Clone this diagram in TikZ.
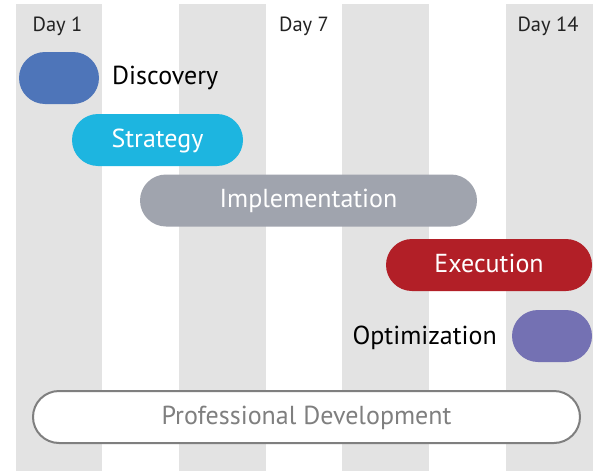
\documentclass[tikz,border=0pt]{standalone}
\usepackage{fontspec}
\setmainfont{PT Sans}
\definecolor{stripe}{HTML}{E3E3E3}
\definecolor{cdisc}{HTML}{4E75B9}
\definecolor{cstrat}{HTML}{1DB5E0}
\definecolor{cimpl}{HTML}{A0A4AE}
\definecolor{cexec}{HTML}{B21F27}
\definecolor{coptim}{HTML}{7471B3}
\definecolor{cline}{HTML}{7F7F7F}
\definecolor{cday}{HTML}{222222}
\tikzset{
  pill/.style={rectangle, rounded corners=26pt, minimum height=52pt, inner sep=0pt,
    text height=20pt, text depth=6pt,
    text=white, font=\fontsize{26}{30}\selectfont},
  lbl/.style={inner sep=0pt, text=black, text height=20pt, text depth=6pt,
    font=\fontsize{26}{30}\selectfont},
  daylbl/.style={inner sep=0pt, text=cday, font=\fontsize{20.5}{24}\selectfont},
  band/.style={fill=stripe, draw=none}
}
\begin{document}
\begin{tikzpicture}[x=1pt,y=-1pt]
\useasboundingbox (0,0) rectangle (600,471);
\fill[white] (0,0) rectangle (600,471);
% stripes
\foreach \a/\b in {16/102,179/266,342/429,506/593}
  \path[band] (\a,4) rectangle (\b,471);
% day labels
\node[daylbl] (d1) at (57.5,26) {Day 1};
\node[daylbl] (d7) at (304,26) {Day 7};
\node[daylbl] (d14) at (548,26) {Day 14};
% bars
\node[pill, fill=cdisc, minimum width=80pt] (disc) at (59,78) {};
\node[lbl, anchor=west] (disct) at (112,77.5) {Discovery};
\node[pill, fill=cstrat, minimum width=171pt] (strat) at (157.5,140) {Strategy};
\node[pill, fill=cimpl, minimum width=337pt] (impl) at (308.5,200.5) {Implementation};
\node[pill, fill=cexec, minimum width=206pt] (exec) at (489,265) {Execution};
\node[pill, fill=coptim, minimum width=80pt] (optim) at (552,336) {};
\node[lbl, anchor=east] (optimt) at (497,337) {Optimization};
\node[pill, fill=white, draw=cline, line width=2pt, text=cline, minimum width=547pt, minimum height=52pt] (prof) at (306.5,417) {Professional Development};
\end{tikzpicture}
\end{document}
